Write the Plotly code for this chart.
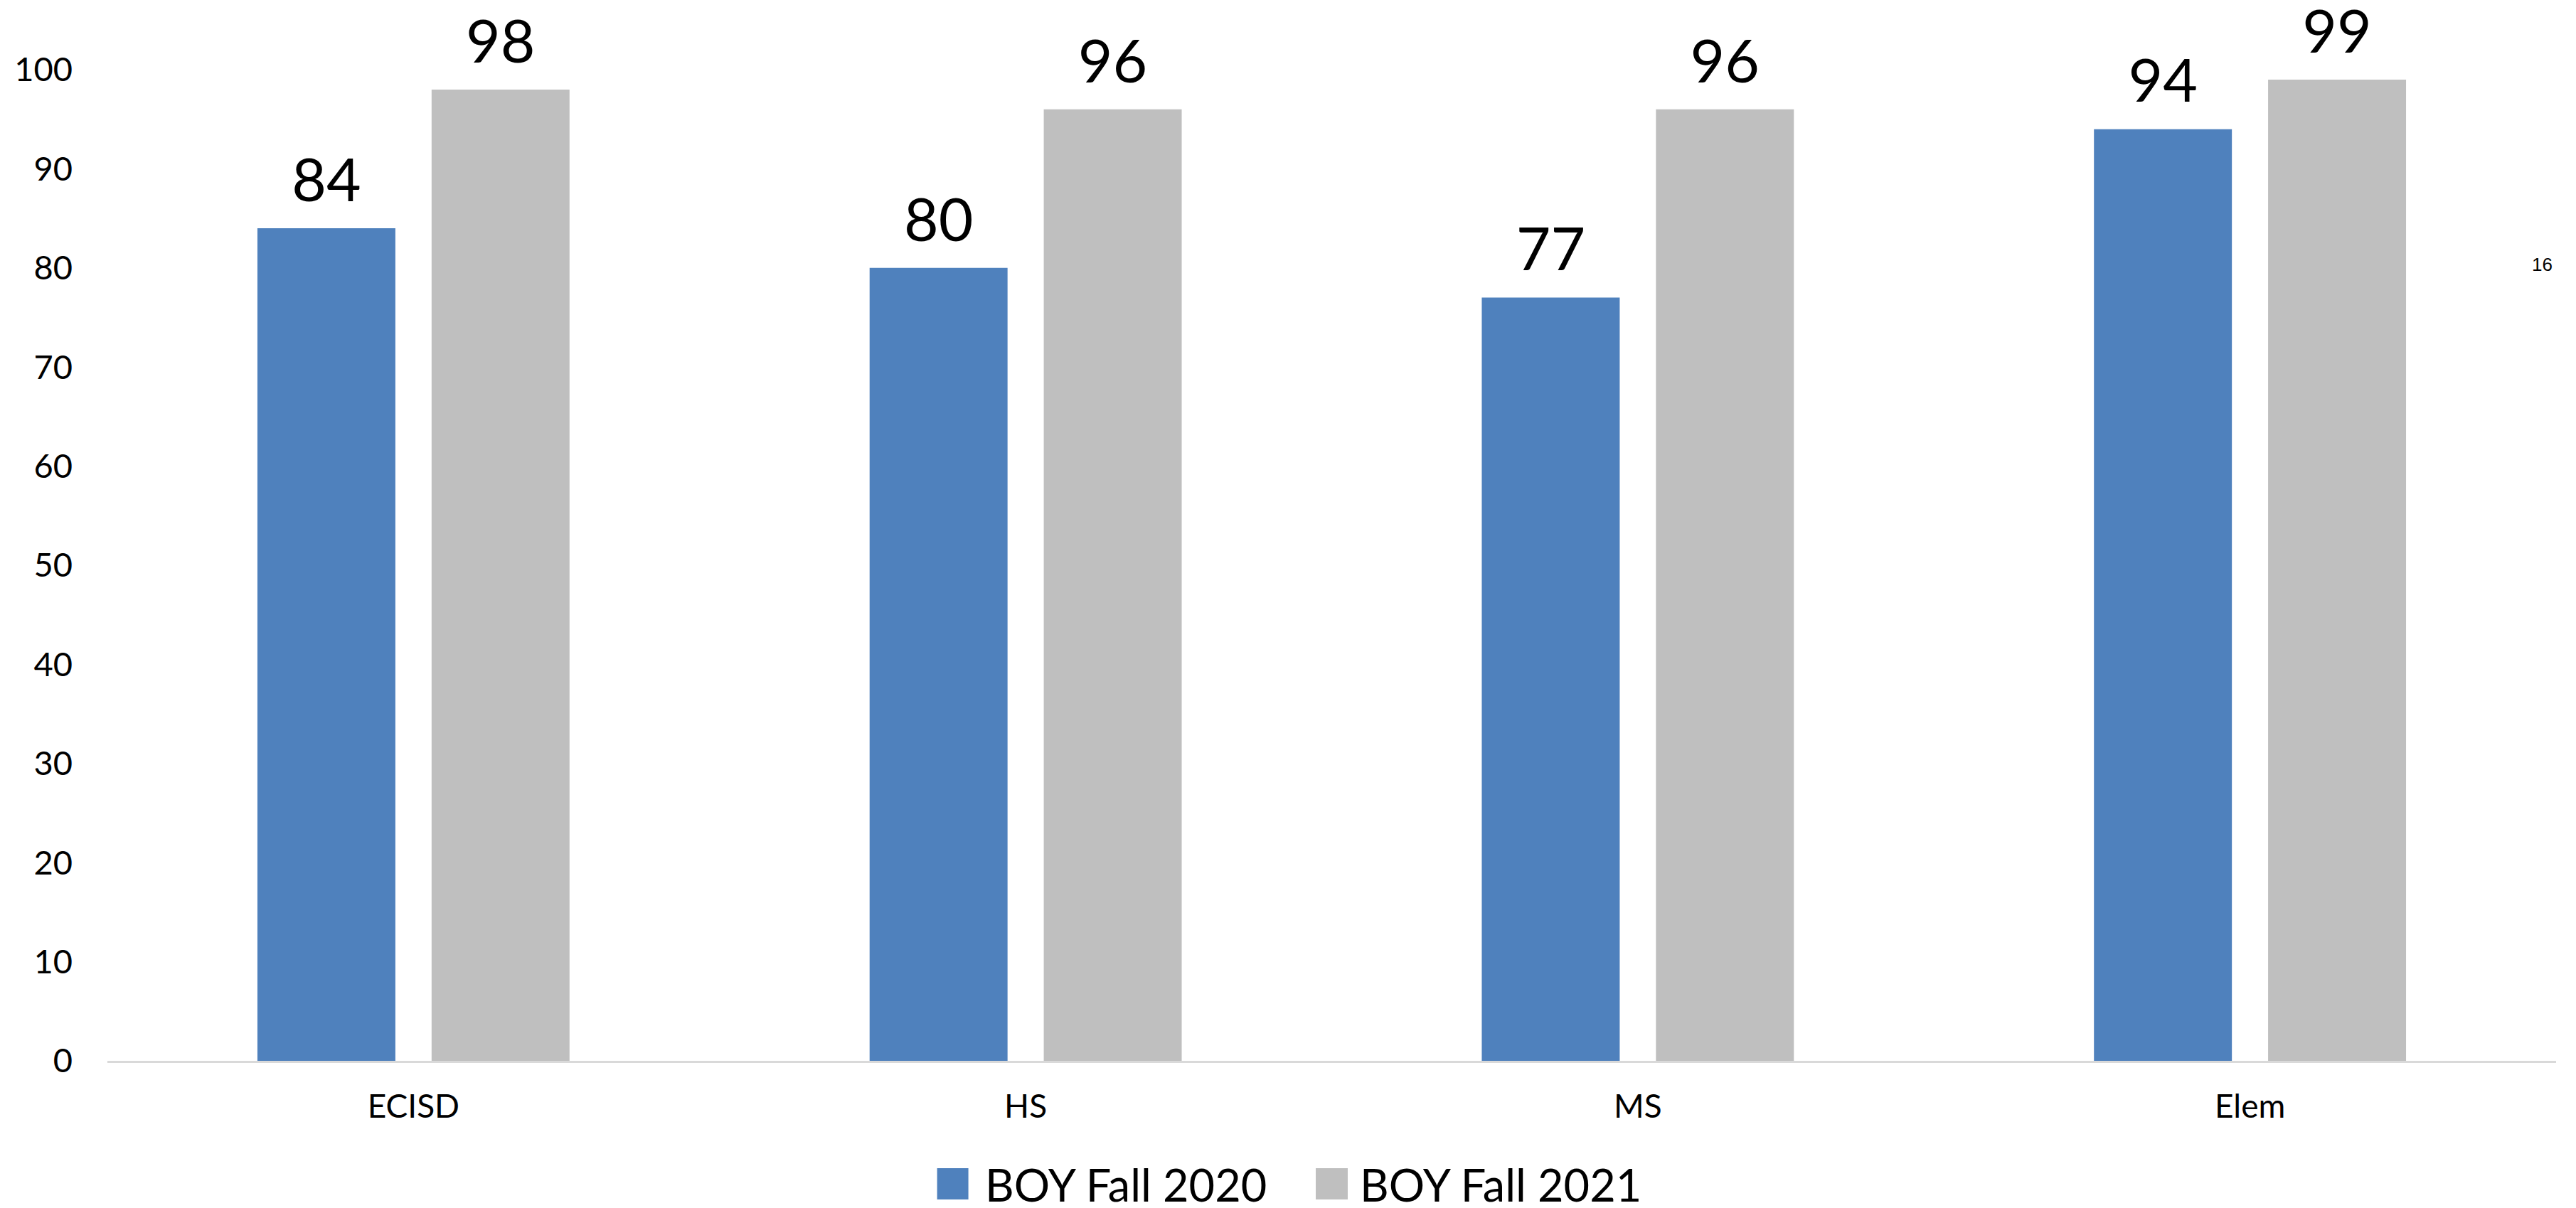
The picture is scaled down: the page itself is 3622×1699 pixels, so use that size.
import plotly.graph_objects as go

categories = ["ECISD", "HS", "MS", "Elem"]
series_names = ["BOY Fall 2020", "BOY Fall 2021"]
fall_2020 = [84, 80, 77, 94]
fall_2021 = [98, 96, 96, 99]
y_ticks = [0, 10, 20, 30, 40, 50, 60, 70, 80, 90, 100]
page_note = "16"

colors = ["#4f81bd", "#bfbfbf"]
OFF = 8  # page body margin
W, H = 3622 - 2 * OFF, 1699 - 2 * OFF
# page-pixel layout targets
PL, PT, PW, PH = 147, 98, 3447, 1394
ML, MT = PL - OFF, PT - OFF
MR = W - ML - PW
MB = H - MT - PH


def px(x):
    return (x - PL) / PW


def py(y):
    return (PT + PH - y) / PH


fig = go.Figure()
for name, vals, col, og in [(series_names[0], fall_2020, colors[0], "a"),
                            (series_names[1], fall_2021, colors[1], "b")]:
    fig.add_trace(go.Bar(x=categories, y=vals, name=name, marker_color=col,
                         marker_line_width=0, showlegend=False, offsetgroup=og,
                         hoverinfo="skip"))
for name, vals, og in [(series_names[0], fall_2020, "a"), (series_names[1], fall_2021, "b")]:
    fig.add_trace(go.Scatter(x=categories, y=vals, mode="markers+text",
                             text=[str(v) for v in vals], textposition="top center",
                             marker=dict(size=26, opacity=0), offsetgroup=og,
                             textfont=dict(family="Lato", size=84, color="#000000"),
                             showlegend=False, hoverinfo="skip", cliponaxis=False))

# legend drawn manually
legend_items = [(1315, 1359, 1380), (1848, 1893, 1908)]
for (x0, x1, tx), name, col in zip(legend_items, series_names, colors):
    fig.add_shape(type="rect", xref="paper", yref="paper",
                  x0=px(x0), x1=px(x1), y0=py(1687), y1=py(1643),
                  fillcolor=col, line_width=0)
    fig.add_annotation(xref="paper", yref="paper", x=px(tx), y=py(1665),
                       xanchor="left", yanchor="middle", showarrow=False,
                       text=name, font=dict(family="Lato", size=63, color="#000000"))

fig.add_annotation(xref="paper", yref="paper", x=px(3574), y=py(372),
                   xanchor="center", yanchor="middle", showarrow=False,
                   text=page_note, font=dict(family="Liberation Sans", size=26, color="#000000"))

fig.update_layout(
    width=W, height=H,
    margin=dict(l=ML, r=MR, t=MT, b=MB, pad=0),
    paper_bgcolor="white", plot_bgcolor="white",
    barmode="group", bargap=0.431, bargroupgap=0.208,
    scattermode="group", scattergap=0.431,
    showlegend=False,
    xaxis=dict(type="category", showgrid=False, showline=True, linecolor="#d9d9d9",
               linewidth=3, ticks="", ticklabelstandoff=22,
               tickfont=dict(family="Lato", size=46, color="#000000")),
    yaxis=dict(range=[0, 100], tickvals=y_ticks, showgrid=False, zeroline=False,
               showline=False, ticks="", ticklabelstandoff=48,
               tickfont=dict(family="Lato", size=47, color="#000000")),
)

fig.write_html("out.html")
